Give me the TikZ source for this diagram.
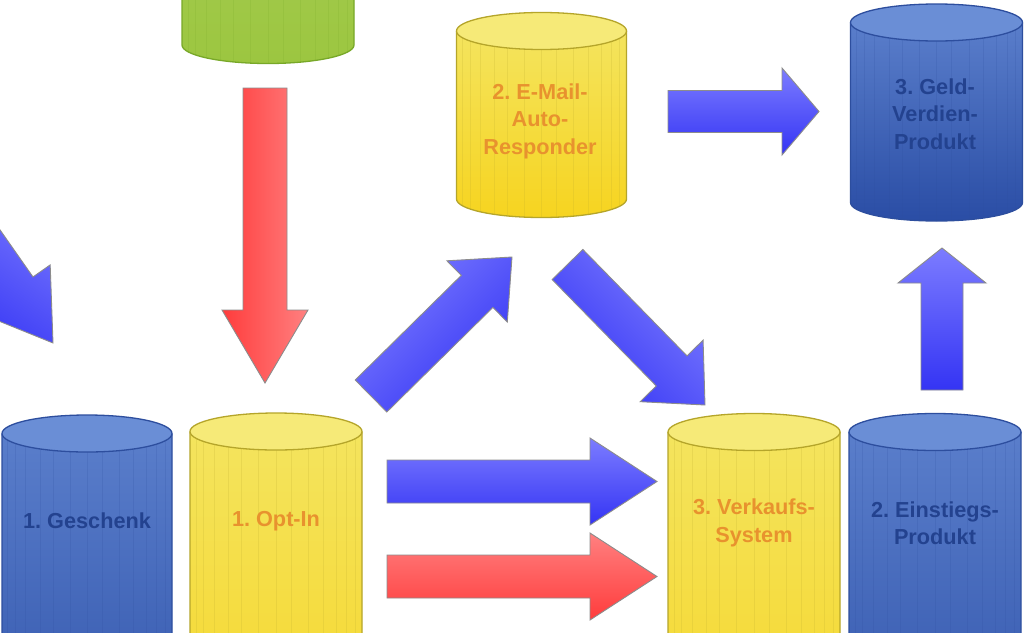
\documentclass[tikz,border=0pt]{standalone}
\usepackage{fontspec}
\setmainfont{Liberation Sans}
\usetikzlibrary{calc}
\definecolor{cbtop}{HTML}{5A7ECB}
\definecolor{cbbot}{HTML}{2A4DA5}
\definecolor{cbcap}{HTML}{6A8ED6}
\definecolor{cbline}{HTML}{2D4E9E}
\definecolor{cytop}{HTML}{F4E45E}
\definecolor{cybot}{HTML}{F6D420}
\definecolor{cycap}{HTML}{F6EA78}
\definecolor{cyline}{HTML}{B5A52A}
\definecolor{cgtop}{HTML}{A9D05C}
\definecolor{cgbot}{HTML}{9CC640}
\definecolor{cgcap}{HTML}{B5D870}
\definecolor{cgline}{HTML}{78A828}
\definecolor{bluelight}{HTML}{7C7CFF}
\definecolor{bluedark}{HTML}{3434F4}
\definecolor{redlight}{HTML}{FF8080}
\definecolor{reddark}{HTML}{FF3C3C}
\definecolor{arrowline}{HTML}{8C8C8C}
\definecolor{txtorange}{HTML}{E8922E}
\definecolor{txtblue}{HTML}{23428F}
\frenchspacing
\tikzset{
  cyltext/.style={font=\fontsize{21.7}{27.5}\selectfont\bfseries, align=center, inner sep=0pt},
  ytext/.style={cyltext, text=txtorange},
  btext/.style={cyltext, text=txtblue},
  arrowbase/.style={draw=arrowline, line width=0.9pt, line join=miter},
}
% #1 cx, #2 top centre y, #3 bottom centre y, #4 rx, #5 colour prefix
\newcommand\mycyl[5]{%
  \def\ry{18.5}%
  \path[shade, top color=#5top, bottom color=#5bot]
    (#1-#4,#2) -- (#1-#4,#3) .. controls (#1-#4,#3+0.552*\ry) and (#1-0.552*#4,#3+\ry) .. (#1,#3+\ry)
    .. controls (#1+0.552*#4,#3+\ry) and (#1+#4,#3+0.552*\ry) .. (#1+#4,#3) -- (#1+#4,#2) -- cycle;
  \begin{scope}
    \clip (#1-#4,#2) -- (#1-#4,#3) .. controls (#1-#4,#3+0.552*\ry) and (#1-0.552*#4,#3+\ry) .. (#1,#3+\ry)
      .. controls (#1+0.552*#4,#3+\ry) and (#1+#4,#3+0.552*\ry) .. (#1+#4,#3) -- (#1+#4,#2) -- cycle;
    \foreach \s in {-0.93,-0.84,-0.72,-0.55,-0.4,-0.2,0,0.18,0.38,0.55,0.7,0.82,0.92}
      \draw[#5line, opacity=0.18, line width=1pt] (#1+\s*#4,#2) -- (#1+\s*#4,#3+\ry);
  \end{scope}
  \draw[#5line, line width=1.3pt]
    (#1-#4,#2) -- (#1-#4,#3) .. controls (#1-#4,#3+0.552*\ry) and (#1-0.552*#4,#3+\ry) .. (#1,#3+\ry)
    .. controls (#1+0.552*#4,#3+\ry) and (#1+#4,#3+0.552*\ry) .. (#1+#4,#3) -- (#1+#4,#2);
  \path[fill=#5cap, draw=#5line, line width=1.3pt] (#1,#2) ellipse [x radius=#4, y radius=\ry];
}
% #1 tail, #2 tip, #3 shaft half width, #4 head half width, #5 head length, #6 style
\newcommand\barrow[6]{%
  \coordinate (T) at (#1);
  \coordinate (P) at (#2);
  \coordinate (B) at ($(P)!#5!(T)$);
  \path[arrowbase, #6] ($(T)!#3!90:(P)$) -- ($(B)!#3!90:(P)$) -- ($(B)!#4!90:(P)$) -- (P)
    -- ($(B)!#4!-90:(P)$) -- ($(B)!#3!-90:(P)$) -- ($(T)!#3!-90:(P)$) -- cycle;
}
\begin{document}
\begin{tikzpicture}[x=1pt,y=-1pt]
\path[use as bounding box] (0,0) rectangle (1024,632);
\fill[white] (0,0) rectangle (1024,632);
\clip (0,0) rectangle (1024,632);

% cylinders
\mycyl{268}{-200}{45}{86}{cg}
\mycyl{541.5}{31}{199}{85}{cy}
\mycyl{936.5}{22.5}{202.5}{86}{cb}
\mycyl{87}{433.5}{800}{85}{cb}
\mycyl{276}{431.5}{800}{86}{cy}
\mycyl{754}{432}{800}{86}{cy}
\mycyl{935}{432}{800}{86}{cb}

% texts
\node[ytext] (mail) at (540,121) {2. E-Mail-\\Auto-\\Responder};
\node[btext] (geld) at (935,114) {3. Geld-\\Verdien-\\Produkt};
\node[btext] (geschenk) at (87,521) {1. Geschenk};
\node[ytext] (optin) at (276,521) {1. Opt-In};
\node[ytext] (verkauf) at (754,523) {3. Verkaufs-\\System};
\node[btext] (einstieg) at (935,523) {2. Einstiegs-\\Produkt};

% arrows
\barrow{265,88}{265,383}{22pt}{43pt}{73pt}{left color=reddark, right color=redlight}
\barrow{-61.7,179.2}{53,343}{21.5pt}{42.5pt}{65.6pt}{top color=bluelight, bottom color=bluedark, shading angle=-35}
\barrow{371,396}{512,257}{22.5pt}{43pt}{49pt}{top color=bluelight, bottom color=bluedark, shading angle=45}
\barrow{668,111.5}{819,111.5}{21pt}{43.5pt}{37pt}{top color=bluelight, bottom color=bluedark}
\barrow{567.5,264.5}{705,405}{21.5pt}{44pt}{47.7pt}{top color=bluelight, bottom color=bluedark, shading angle=-45}
\barrow{942,390}{942,248}{21pt}{44pt}{35pt}{top color=bluelight, bottom color=bluedark}
\barrow{387,481.5}{657,481.5}{21.5pt}{43.5pt}{67pt}{top color=bluelight, bottom color=bluedark}
\barrow{387,576.5}{657,576.5}{21.5pt}{43.5pt}{67pt}{top color=redlight, bottom color=reddark}
\end{tikzpicture}
\end{document}
